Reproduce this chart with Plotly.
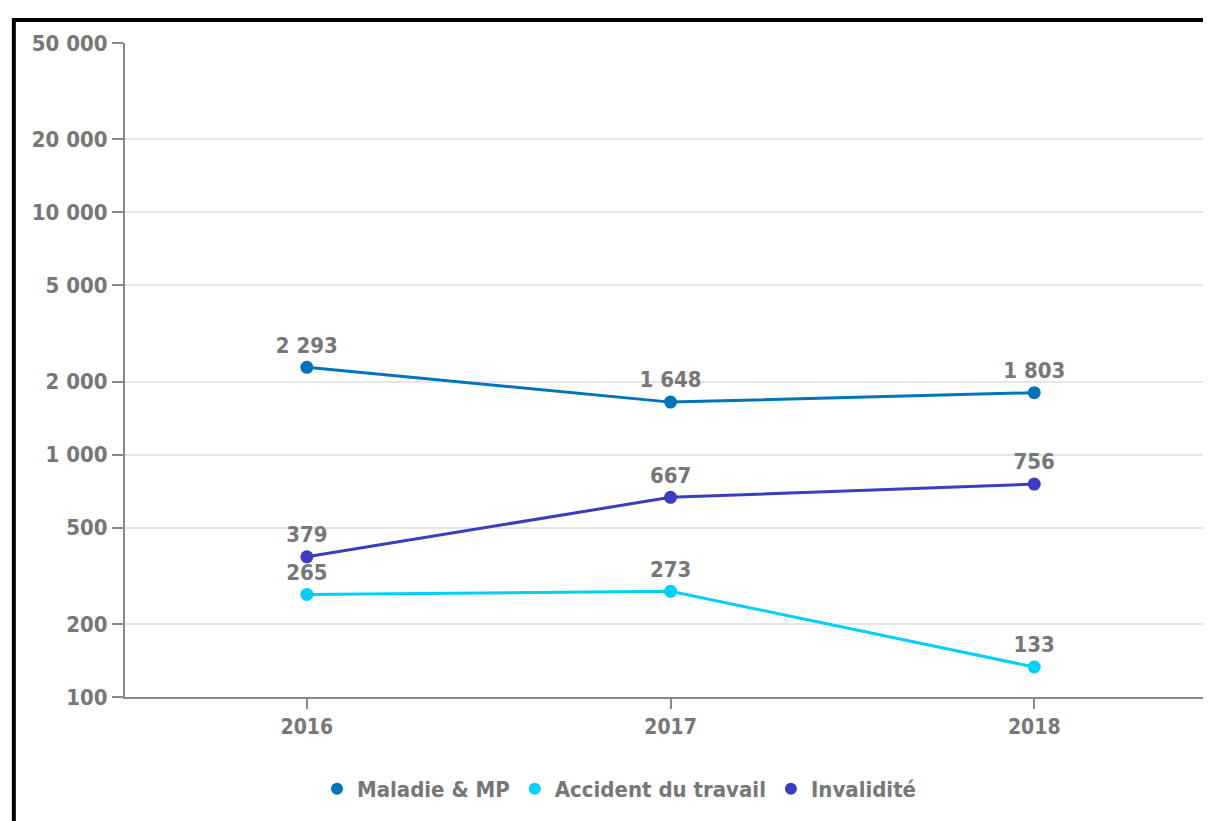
import plotly.graph_objects as go

years = [2016, 2017, 2018]
series_names = ["Maladie & MP", "Accident du travail", "Invalidité"]
maladie = [2293, 1648, 1803]
accident = [265, 273, 133]
invalidite = [379, 667, 756]
colors = ["#0074B8", "#00CFF7", "#3A3DBF"]
ytick_vals = [100, 200, 500, 1000, 2000, 5000, 10000, 20000, 50000]
ytick_text = ["100", "200", "500", "1 000", "2 000", "5 000", "10 000", "20 000", "50 000"]

FONT = "DejaVu Sans Condensed, Liberation Sans Narrow, DejaVu Sans"
GRAY = "#777777"
FS = 22


def fmt(v):
    return f"{v:,}".replace(",", " ")


fig = go.Figure()
for name, vals, col in zip(series_names, [maladie, accident, invalidite], colors):
    fig.add_trace(go.Scatter(
        x=years, y=vals, name=name, mode="lines+markers+text",
        line=dict(color=col, width=3),
        marker=dict(color=col, size=13),
        text=[fmt(v) for v in vals], textposition="top center",
        textfont=dict(family=FONT, size=FS, color=GRAY, weight="bold"),
        cliponaxis=False, showlegend=False,
    ))
# legend entries: circle markers only
for name, col in zip(series_names, colors):
    fig.add_trace(go.Scatter(
        x=[None], y=[None], name=name, mode="markers",
        marker=dict(color=col, size=15), showlegend=True,
    ))

fig.update_layout(
    width=1211, height=813,
    margin=dict(l=117, r=0, t=35, b=124),
    paper_bgcolor="white", plot_bgcolor="white",
    font=dict(family=FONT, size=FS, color=GRAY, weight="bold"),
    showlegend=True,
    legend=dict(orientation="h", x=0.452, xanchor="center", y=-0.1407, yanchor="middle",
                font=dict(family=FONT, size=FS, color=GRAY, weight="bold"),
                itemsizing="constant", itemwidth=30, tracegroupgap=0),
    xaxis=dict(range=[2015.5, 2018.508], tickvals=years, ticktext=[str(y) for y in years],
               showgrid=False, zeroline=False, showline=True, linecolor="#888888", linewidth=2,
               ticks="outside", ticklen=10, tickcolor="#888888", tickwidth=1.5,
               tickfont=dict(family=FONT, size=21, color=GRAY, weight="bold")),
    yaxis=dict(type="log", range=[2, 4.699], tickvals=ytick_vals, ticktext=ytick_text,
               showgrid=True, gridcolor="#E6E6E6", gridwidth=1.5, zeroline=False,
               showline=True, linecolor="#888888", linewidth=2,
               ticks="outside", ticklen=11, tickcolor="#888888", tickwidth=1.5,
               tickfont=dict(family=FONT, size=FS, color=GRAY, weight="bold")),
    shapes=[dict(type="rect", xref="paper", yref="paper",
                 x0=-0.1016, x1=1.2, y0=-0.5, y1=1.0352,
                 line=dict(color="black", width=4), layer="above")],
)

fig.write_html("out.html")
